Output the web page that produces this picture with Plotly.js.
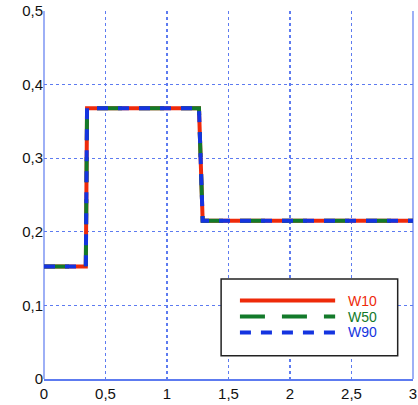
<!DOCTYPE html>
<html>
<head>
<meta charset="utf-8">
<script src="https://cdn.plot.ly/plotly-3.0.1.min.js"></script>
<style>html,body{margin:0;padding:0;background:#fff;}#chart{width:418px;height:405px;}</style>
</head>
<body>
<div id="chart"></div>
<script>
// Data
var xs = [0, 0.34, 0.35, 1.26, 1.29, 3];
var w10 = [0.153, 0.153, 0.368, 0.368, 0.215, 0.215];
var w50 = [0.153, 0.153, 0.368, 0.368, 0.215, 0.215];
var w90 = [0.153, 0.153, 0.368, 0.368, 0.215, 0.215];
var seriesNames = ['W10', 'W50', 'W90'];
var xTicks = [0, 0.5, 1, 1.5, 2, 2.5, 3];
var yTicks = [0, 0.1, 0.2, 0.3, 0.4, 0.5];

var colors = ['#ee2a0a', '#137a2a', '#1434e0'];
var dashes = ['solid', '25px,17px', '11px,10px'];
var series = [w10, w50, w90];

var traces = series.map(function (ys, i) {
  return {
    x: xs, y: ys, name: seriesNames[i], type: 'scatter', mode: 'lines',
    line: {color: colors[i], width: 4, dash: dashes[i]},
    showlegend: false
  };
});

var gridColor = '#5d7bf0';
var font = {family: 'Liberation Sans, Arial, sans-serif', size: 15, color: '#111'};

// custom legend (long line samples like the reference)
var shapes = [
  {type: 'rect', xref: 'paper', yref: 'paper', x0: 0.48, x1: 0.9585, y0: 0.0633, y1: 0.2717,
   line: {color: '#222', width: 1.5}, fillcolor: '#fff', layer: 'above'},
  {type: 'line', xref: 'paper', yref: 'paper', x0: 1, x1: 1, y0: 0, y1: 1,
   line: {color: gridColor, width: 1.2}, layer: 'below'},
  {type: 'line', xref: 'paper', yref: 'paper', x0: 0, x1: 0, y0: 0, y1: 1,
   line: {color: gridColor, width: 1.2}, layer: 'below'}
];
var annotations = [];
var rowY = [0.2133, 0.1698, 0.1264];
seriesNames.forEach(function (n, i) {
  shapes.push({type: 'line', xref: 'paper', yref: 'paper', x0: 0.531, x1: 0.789, y0: rowY[i], y1: rowY[i],
    line: {color: colors[i], width: 4, dash: dashes[i]}, layer: 'above'});
  annotations.push({xref: 'paper', yref: 'paper', x: 0.822, y: rowY[i], text: n, showarrow: false,
    xanchor: 'left', yanchor: 'middle', borderpad: 0,
    font: {family: font.family, size: 14, color: colors[i]}});
});

var layout = {
  width: 418, height: 405,
  margin: {l: 44, r: 5, t: 11, b: 26},
  paper_bgcolor: '#fff', plot_bgcolor: '#fff',
  separators: ',.',
  font: font,
  xaxis: {
    range: [0, 3], tickvals: xTicks, ticks: '', showgrid: true, gridcolor: gridColor,
    griddash: '3px,3px', gridwidth: 1.2, zeroline: false, showline: true, linecolor: gridColor,
    linewidth: 1.5, tickfont: font, fixedrange: true
  },
  yaxis: {
    range: [0, 0.5], tickvals: yTicks, ticks: '', showgrid: true, gridcolor: gridColor,
    griddash: '3px,3px', gridwidth: 1.2, zeroline: false, showline: false,
    tickfont: font, fixedrange: true
  },
  shapes: shapes,
  annotations: annotations
};

Plotly.newPlot('chart', traces, layout, {displayModeBar: false, staticPlot: true});
</script>
</body>
</html>
